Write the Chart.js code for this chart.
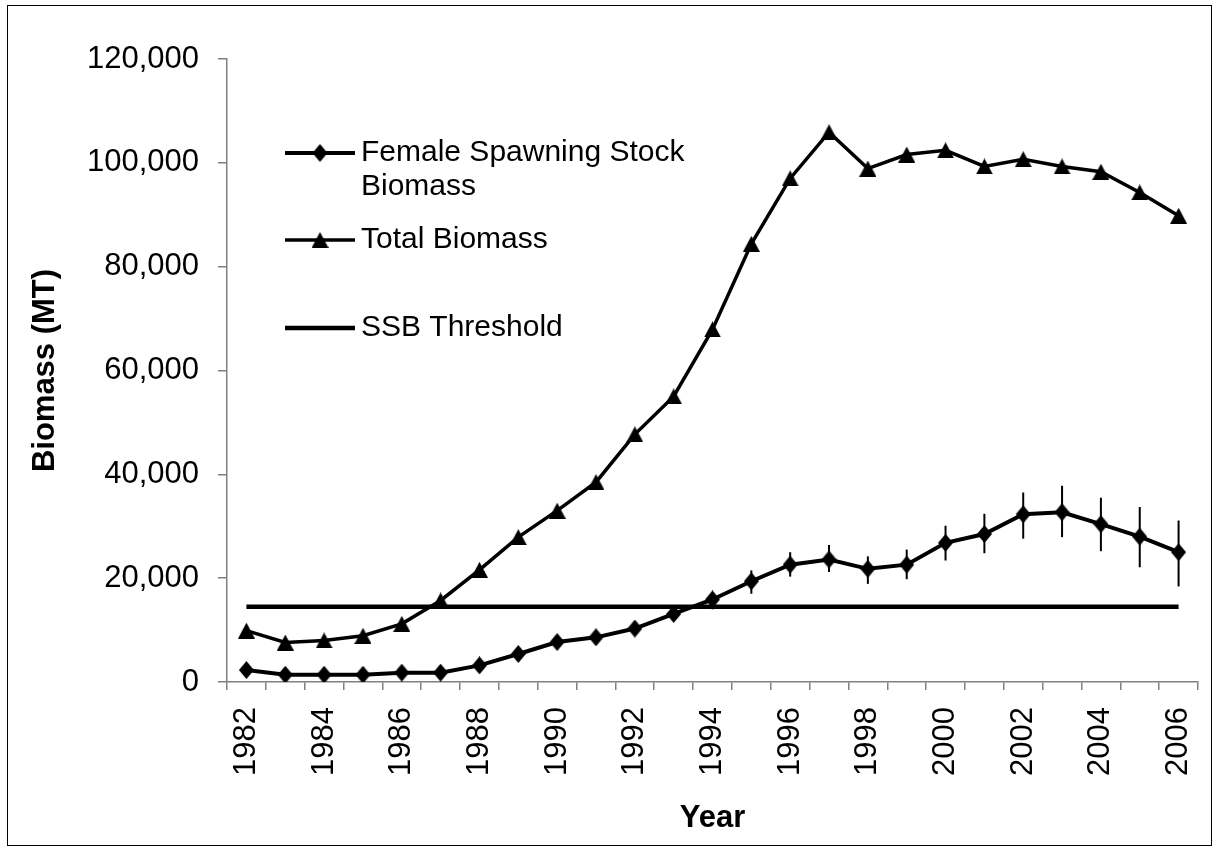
<!DOCTYPE html>
<html><head><meta charset="utf-8">
<script src="https://cdn.jsdelivr.net/npm/chart.js@4.4.1/dist/chart.umd.min.js"></script>
<style>
html,body{margin:0;padding:0;background:#fff}
#wrap{position:relative;width:1215px;height:848px}
#frame{position:absolute;left:7px;top:5px;width:1205px;height:841px;border:1.5px solid #000;box-sizing:border-box;pointer-events:none}
canvas{position:absolute;left:0;top:0}
</style>
</head><body>
<div id="wrap"><canvas id="c" width="1215" height="848"></canvas><div id="frame"></div></div>
<script>
// ---- data ----
const years = ['1982','1983','1984','1985','1986','1987','1988','1989','1990','1991','1992','1993','1994','1995','1996','1997','1998','1999','2000','2001','2002','2003','2004','2005','2006'];
const ssb = [2300,1400,1400,1400,1800,1800,3200,5400,7700,8600,10300,13100,15900,19400,22600,23600,21800,22600,26800,28500,32300,32700,30400,28000,25000];
const ssbLow = [null,null,null,null,null,null,null,null,null,null,null,12200,14000,17000,20300,21200,18900,19800,23400,24800,27600,27900,25200,22100,18400];
const ssbHigh = [null,null,null,null,null,null,null,null,null,null,null,14000,17200,21500,25000,26400,24200,25500,30100,32400,36500,37800,35500,33700,31100];
const total = [9900,7600,8000,8900,11200,15700,21600,27900,33000,38500,47700,55000,67900,84400,97000,105900,98900,101600,102400,99300,100700,99300,98300,94300,89800];
const ssbThreshold = 14500;
const yTicks = [0,20000,40000,60000,80000,100000,120000];
const legendLabels = [['Female Spawning Stock','Biomass'],['Total Biomass'],['SSB Threshold']];

const FONT = "'Liberation Sans', Arial, sans-serif";
Chart.defaults.font.family = FONT;
Chart.defaults.color = '#000';

function diamond(w,h){const c=document.createElement('canvas');c.width=w;c.height=h;const g=c.getContext('2d');g.fillStyle='#000';g.beginPath();g.moveTo(w/2,0);g.lineTo(w,h/2);g.lineTo(w/2,h);g.lineTo(0,h/2);g.closePath();g.fill();return c;}
function triangle(w,h){const c=document.createElement('canvas');c.width=w;c.height=h;const g=c.getContext('2d');g.fillStyle='#000';g.beginPath();g.moveTo(w/2,0);g.lineTo(w,h);g.lineTo(0,h);g.closePath();g.fill();return c;}
const diamondImg = diamond(15,18);
const triImg = triangle(17,16);

const errorBars = {
  id:'errorBars',
  afterDatasetsDraw(chart){
    const {ctx, scales:{x,y}} = chart;
    ctx.save();ctx.strokeStyle='#000';ctx.lineWidth=2;
    ssbLow.forEach((lo,i)=>{
      if(lo==null) return;
      const px = x.getPixelForValue(i);
      ctx.beginPath();ctx.moveTo(px,y.getPixelForValue(lo));ctx.lineTo(px,y.getPixelForValue(ssbHigh[i]));ctx.stroke();
    });
    ctx.restore();
  }
};

const customLegend = {
  id:'customLegend',
  afterDraw(chart){
    const ctx = chart.ctx;
    const rows = [153,240,328];
    const markers = [diamondImg, triImg, null];
    const widths = [4,3.5,4.5];
    ctx.save();
    ctx.font = '30px ' + FONT;
    ctx.textBaseline='middle';ctx.fillStyle='#000';
    rows.forEach((ry,i)=>{
      ctx.strokeStyle='#000';ctx.lineWidth=widths[i];
      ctx.beginPath();ctx.moveTo(285,ry);ctx.lineTo(355,ry);ctx.stroke();
      if(markers[i]) ctx.drawImage(markers[i],320-markers[i].width/2,ry-markers[i].height/2);
      legendLabels[i].forEach((t,j)=>ctx.fillText(t,361,ry+j*34));
    });
    ctx.restore();
  }
};

new Chart(document.getElementById('c'),{
  type:'line',
  data:{labels:years,datasets:[
    {label:'Female Spawning Stock Biomass',data:ssb,borderColor:'#000',borderWidth:4,pointStyle:diamondImg,pointRadius:8,tension:0,order:2},
    {label:'Total Biomass',data:total,borderColor:'#000',borderWidth:3.5,pointStyle:triImg,pointRadius:8,tension:0,order:3},
    {label:'SSB Threshold',data:years.map(()=>ssbThreshold),borderColor:'#000',borderWidth:4.5,pointRadius:0,tension:0,order:1}
  ]},
  options:{
    responsive:false,devicePixelRatio:1,animation:false,
    layout:{padding:{top:59,right:17,left:0,bottom:0}},
    plugins:{legend:{display:false},tooltip:{enabled:false}},
    scales:{
      x:{
        offset:true,
        grid:{offset:true,drawOnChartArea:false,tickLength:8,color:'#808080',lineWidth:1.5},
        border:{color:'#808080',width:1.5},
        ticks:{minRotation:90,maxRotation:90,padding:17,font:{size:31},color:'#000',autoSkip:false,
          callback:function(v,i){return i%2===0?years[i]:'';}},
        title:{display:true,text:'Year',font:{size:31,weight:'bold'},color:'#000',padding:{top:0,bottom:11}},
        afterFit(s){s.height=166;s.paddingLeft=0;s.paddingRight=0;}
      },
      y:{
        min:0,max:120000,
        afterBuildTicks(s){s.ticks=yTicks.map(v=>({value:v}));},
        grid:{drawOnChartArea:false,tickLength:9,color:'#808080',lineWidth:1.5},
        border:{color:'#808080',width:1.5},
        ticks:{padding:19,font:{size:31},color:'#000',callback:v=>v.toLocaleString('en-US')},
        title:{display:true,text:'Biomass (MT)',font:{size:31,weight:'bold'},color:'#000',padding:{top:27,bottom:0}},
        afterFit(s){s.width=227;s.paddingTop=0;s.paddingBottom=0;}
      }
    }
  },
  plugins:[errorBars,customLegend]
});
</script>
</body></html>
